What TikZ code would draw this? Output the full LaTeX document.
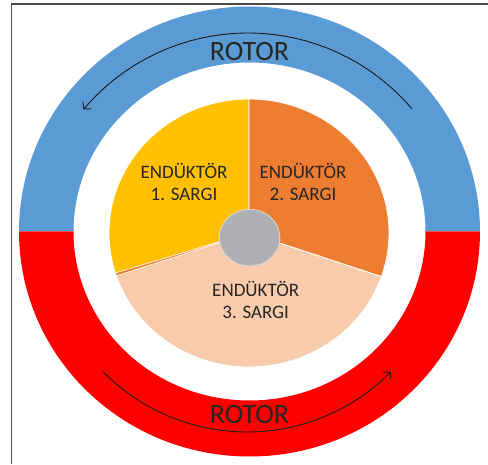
\documentclass[tikz,border=0pt]{standalone}
\usepackage{fontspec}
\setmainfont{Carlito}
\usetikzlibrary{arrows.meta}
\definecolor{rotorblue}{HTML}{5B9BD5}
\definecolor{rotorred}{HTML}{FF0000}
\definecolor{sargione}{HTML}{FFC000}
\definecolor{sargitwo}{HTML}{ED7D31}
\definecolor{sargithree}{HTML}{F8CBAD}
\definecolor{hubgray}{HTML}{AEB0B4}
\definecolor{txt}{HTML}{262626}
\tikzset{
  slice/.style={draw=white,line width=0.8pt},
  lbl/.style={text=txt,font=\fontsize{19}{22.5}\selectfont,align=center,anchor=base,inner sep=0pt},
  rotorlbl/.style={text=txt,font=\fontsize{28}{30}\selectfont,anchor=base,inner sep=0pt},
  turn/.style={line width=0.9pt,draw=black!90,-{Straight Barb[length=5pt,width=11pt]}},
  frame/.style={draw=black!70,line width=1.2pt}
}
\begin{document}
\begin{tikzpicture}[x=1pt,y=1pt]
\useasboundingbox (0,0) rectangle (488,464);
\fill[white] (0,0) rectangle (488,464);
\draw[frame] (11.5,0) -- (11.5,460) -- (488,460);
% ring
\coordinate (rc) at (249.5,232.5);
\fill[rotorblue] ([xshift=230.5pt]rc) arc[start angle=0,end angle=180,x radius=230.5,y radius=225]
  -- ([xshift=-176pt]rc) arc[start angle=180,end angle=0,x radius=176,y radius=169] -- cycle;
\fill[rotorred] ([xshift=230.5pt]rc) arc[start angle=0,end angle=-180,x radius=230.5,y radius=225]
  -- ([xshift=-176pt]rc) arc[start angle=-180,end angle=0,x radius=176,y radius=169] -- cycle;
% pie
\coordinate (pc) at (249,231);
\filldraw[slice,fill=sargione] (pc) -- ++(90:134) arc[start angle=90,end angle=197.4,x radius=140,y radius=134] -- cycle;
\filldraw[slice,fill=sargitwo] (pc) -- ++(0,134) arc[start angle=90,end angle=-19,x radius=140,y radius=134] -- cycle;
\path[fill=sargithree,draw=white,line width=0.8pt] (pc) -- ([shift={(-19:140 and 134)}]pc) arc[start angle=-19,end angle=-161.4,x radius=140,y radius=134] -- cycle;
\path[fill=sargitwo,draw=white,line width=0.4pt] (pc) -- ([shift={(197.4:140 and 134)}]pc) arc[start angle=197.4,end angle=198.6,x radius=140,y radius=134] -- cycle;
% hub
\filldraw[fill=hubgray,draw=gray!30,line width=0.8pt] (249.6,226.3) ellipse[x radius=30.3,y radius=28.3];
% labels
\node[lbl] (s1) at (184,263.3) {ENDÜKTÖR\\1. SARGI};
\node[lbl] (s2) at (303,263.3) {ENDÜKTÖR\\2. SARGI};
\node[lbl] (s3) at (255.7,145) {ENDÜKTÖR\\3. SARGI};
\node[rotorlbl] (rtop) at (249.5,403) {ROTOR};
\node[rotorlbl] (rbot) at (249.5,40.7) {ROTOR};
% rotation arrows
\coordinate (tc) at (248,216);
\draw[turn] ([shift={(40.3:215)}]tc) arc[start angle=40.3,end angle=139.9,radius=215];
\coordinate (bc) at (247,234);
\draw[turn] ([shift={(224.6:202)}]bc) arc[start angle=224.6,end angle=315.4,radius=202];
\end{tikzpicture}
\end{document}
